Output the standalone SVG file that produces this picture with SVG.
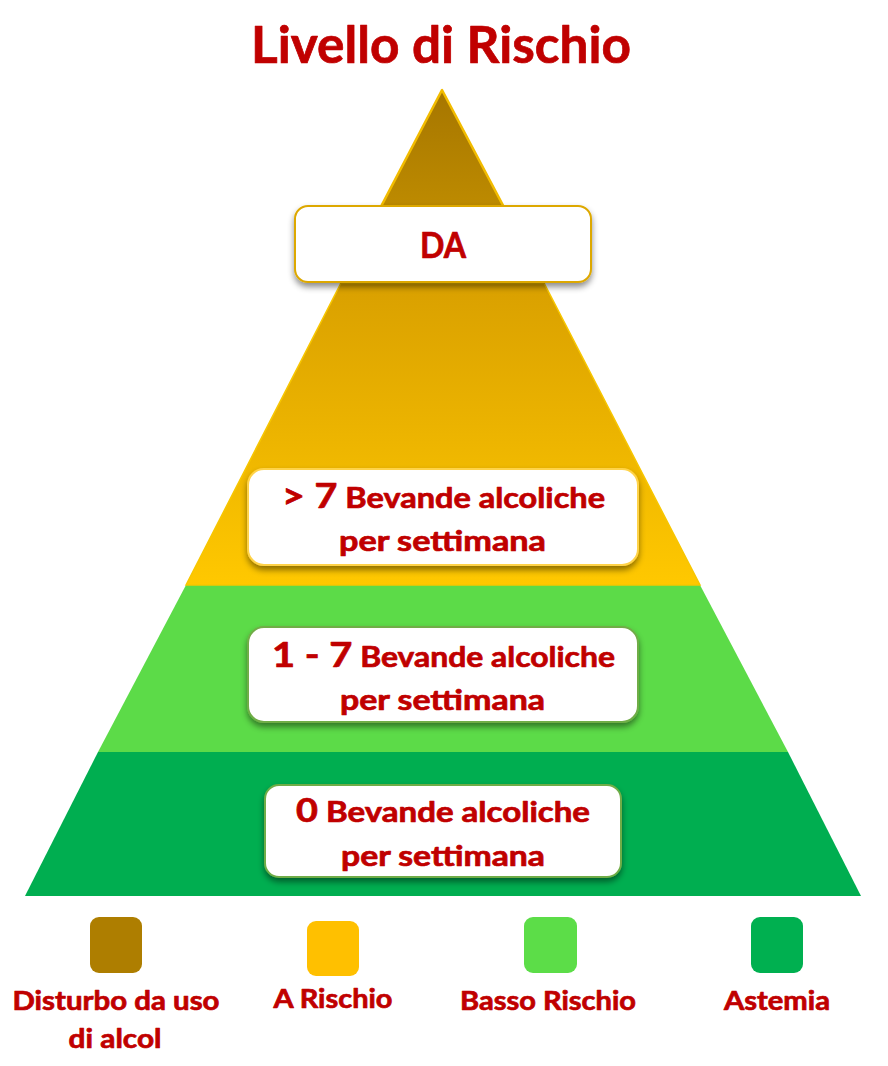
<svg xmlns="http://www.w3.org/2000/svg" width="888" height="1066" viewBox="0 0 888 1066">
  <style>
    .t { font-family: Lato, "Open Sans", "Liberation Sans", sans-serif; font-weight: bold; fill: #C00000; stroke: #C00000; stroke-width: 0.7; stroke-linejoin: round; }
    .box { fill: #FFFFFF; stroke-width: 2; filter: url(#sh); }
    .leg { font-size: 26px; text-anchor: middle; }
  </style>
  <defs>
    <linearGradient id="gBrown" x1="0" y1="0" x2="0" y2="1">
      <stop offset="0" stop-color="#A67600"/>
      <stop offset="1" stop-color="#CC9800"/>
    </linearGradient>
    <linearGradient id="gGold" x1="0" y1="0" x2="0" y2="1">
      <stop offset="0" stop-color="#D9A000"/>
      <stop offset="1" stop-color="#FFC800"/>
    </linearGradient>
    <filter id="sh" x="-10%" y="-20%" width="120%" height="150%">
      <feDropShadow dx="0" dy="4" stdDeviation="3" flood-color="#000000" flood-opacity="0.45"/>
    </filter>
  </defs>

  <text class="t" x="441" y="63" font-size="51" text-anchor="middle" textLength="380" lengthAdjust="spacingAndGlyphs">Livello di Rischio</text>

  <g id="pyramid">
    <polygon points="25,896 98,752 788,752 861,896" fill="#00AE50"/>
    <polygon points="98,752 186,585 700,585 788,752" fill="#5CDB48"/>
    <polygon points="186,585 341,283 544,283 700,585" fill="url(#gGold)" stroke="#F7C600" stroke-width="1.5"/>
    <polygon points="442,90 341,283 544,283" fill="url(#gBrown)" stroke="#F2BC00" stroke-width="2.5" stroke-linejoin="round"/>
  </g>

  <g id="node-da">
    <rect class="box" x="295" y="206" width="296" height="76" rx="13" stroke="#DDA800"/>
    <text class="t" x="443" y="258" font-size="36" text-anchor="middle" textLength="46" lengthAdjust="spacingAndGlyphs">DA</text>
  </g>

  <g id="node-over7">
    <rect class="box" x="248" y="469" width="390" height="96" rx="16" stroke="#FFD34A"/>
    <text class="t" x="282" y="508" font-size="28" textLength="323" lengthAdjust="spacingAndGlyphs"><tspan font-size="34">&gt; 7</tspan> Bevande alcoliche</text>
    <text class="t" x="339" y="551" font-size="28" textLength="207" lengthAdjust="spacingAndGlyphs">per settimana</text>
  </g>

  <g id="node-1to7">
    <rect class="box" x="248" y="627" width="390" height="95" rx="16" stroke="#70AD47"/>
    <text class="t" x="272" y="667" font-size="28" textLength="343" lengthAdjust="spacingAndGlyphs"><tspan font-size="35">1 - 7</tspan> Bevande alcoliche</text>
    <text class="t" x="340" y="710" font-size="28" textLength="205" lengthAdjust="spacingAndGlyphs">per settimana</text>
  </g>

  <g id="node-zero">
    <rect class="box" x="265" y="785" width="356" height="92" rx="14" stroke="#70AD47"/>
    <text class="t" x="296" y="822" font-size="28" textLength="294" lengthAdjust="spacingAndGlyphs"><tspan font-size="32">0</tspan> Bevande alcoliche</text>
    <text class="t" x="341" y="866" font-size="28" textLength="204" lengthAdjust="spacingAndGlyphs">per settimana</text>
  </g>

  <g id="legend-disturbo">
    <rect x="90" y="917" width="52" height="56" rx="9" fill="#AE7E00"/>
    <text class="t leg" x="116" y="1010" textLength="207" lengthAdjust="spacingAndGlyphs">Disturbo da uso</text>
    <text class="t leg" x="115" y="1048" textLength="93" lengthAdjust="spacingAndGlyphs">di alcol</text>
  </g>
  <g id="legend-rischio">
    <rect x="307" y="921" width="52" height="55" rx="9" fill="#FFC000"/>
    <text class="t leg" x="333" y="1008" textLength="119" lengthAdjust="spacingAndGlyphs">A Rischio</text>
  </g>
  <g id="legend-basso">
    <rect x="524" y="917" width="53" height="56" rx="9" fill="#5CDD48"/>
    <text class="t leg" x="548" y="1010" textLength="176" lengthAdjust="spacingAndGlyphs">Basso Rischio</text>
  </g>
  <g id="legend-astemia">
    <rect x="751" y="917" width="52" height="56" rx="9" fill="#00B050"/>
    <text class="t leg" x="777" y="1010" textLength="106" lengthAdjust="spacingAndGlyphs">Astemia</text>
  </g>
</svg>
